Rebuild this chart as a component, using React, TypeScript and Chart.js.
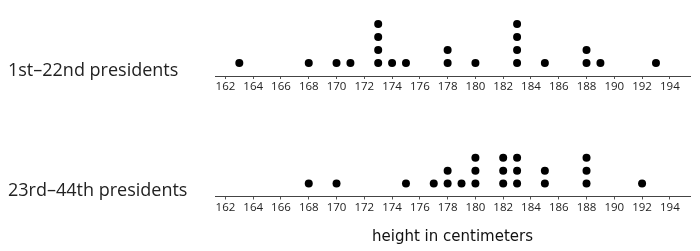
import React, { useEffect, useRef } from "react";
import { Chart, registerables } from "chart.js";

Chart.register(...registerables);

const TICKS = [162, 164, 166, 168, 170, 172, 174, 176, 178, 180, 182, 184, 186, 188, 190, 192, 194];

const TOP_LABEL = "1st–22nd presidents";
const TOP_HEIGHTS = [163, 168, 170, 171, 173, 174, 175, 178, 180, 183, 185, 188, 189, 193];
const TOP_COUNTS = [1, 1, 1, 1, 4, 1, 1, 2, 1, 4, 1, 2, 1, 1];

const BOTTOM_LABEL = "23rd–44th presidents";
const BOTTOM_HEIGHTS = [168, 170, 175, 177, 178, 179, 180, 182, 183, 185, 188, 192];
const BOTTOM_COUNTS = [1, 1, 1, 1, 2, 1, 3, 3, 3, 2, 3, 1];

const X_TITLE = "height in centimeters";

const FONT = "'Open Sans', sans-serif";

function dots(heights: number[], counts: number[]) {
  const pts: { x: number; y: number }[] = [];
  heights.forEach((h, i) => {
    for (let k = 1; k <= counts[i]; k++) pts.push({ x: h, y: k });
  });
  return pts;
}

function makeConfig(heights: number[], counts: number[], title: string | null, axisHeight: number): any {
  return {
    type: "scatter",
    data: {
      datasets: [
        {
          data: dots(heights, counts),
          backgroundColor: "#000",
          borderWidth: 0,
          pointRadius: 4,
          pointHoverRadius: 4,
        },
      ],
    },
    options: {
      animation: false,
      responsive: false,
      maintainAspectRatio: false,
      events: [],
      layout: { padding: { left: 215, right: 10, top: 0, bottom: 0 } },
      plugins: { legend: { display: false }, tooltip: { enabled: false } },
      scales: {
        x: {
          type: "linear",
          min: 161.25,
          max: 195.45,
          afterBuildTicks: (scale: any) => {
            scale.ticks = TICKS.map((v) => ({ value: v }));
          },
          afterFit: (scale: any) => {
            scale.height = axisHeight;
          },
          grid: { drawOnChartArea: false, drawTicks: true, tickLength: 3, color: "#555" },
          border: { display: true, color: "#444", width: 1 },
          ticks: {
            autoSkip: false,
            maxRotation: 0,
            padding: 1,
            color: "#222",
            font: { family: FONT, size: 11.5 },
          },
          title: title
            ? {
                display: true,
                text: title,
                color: "#111",
                font: { family: "'DejaVu Sans', sans-serif", size: 15 },
                padding: { top: 4, bottom: 5 },
              }
            : { display: false },
        },
        y: {
          display: false,
          min: 0,
          max: 5,
        },
      },
    },
  };
}

export default function App() {
  const topRef = useRef<HTMLCanvasElement>(null);
  const botRef = useRef<HTMLCanvasElement>(null);

  useEffect(() => {
    const c1 = new Chart(topRef.current!, makeConfig(TOP_HEIGHTS, TOP_COUNTS, null, 22));
    const c2 = new Chart(botRef.current!, makeConfig(BOTTOM_HEIGHTS, BOTTOM_COUNTS, X_TITLE, 54.5));
    return () => {
      c1.destroy();
      c2.destroy();
    };
  }, []);

  const labelStyle: React.CSSProperties = {
    position: "absolute",
    left: 8,
    fontFamily: FONT,
    fontSize: 18,
    color: "#222",
    whiteSpace: "nowrap",
    lineHeight: "20px",
  };

  return (
    <div style={{ position: "fixed", left: 0, top: 0, width: 700, height: 251, background: "#fff", overflow: "hidden" }}>
      <canvas ref={topRef} width={700} height={91} style={{ position: "absolute", left: 0, top: 7, width: 700, height: 91 }} />
      <canvas ref={botRef} width={700} height={123} style={{ position: "absolute", left: 0, top: 128, width: 700, height: 123 }} />
      <div style={{ ...labelStyle, top: 59 }}>{TOP_LABEL}</div>
      <div style={{ ...labelStyle, top: 179 }}>{BOTTOM_LABEL}</div>
    </div>
  );
}
